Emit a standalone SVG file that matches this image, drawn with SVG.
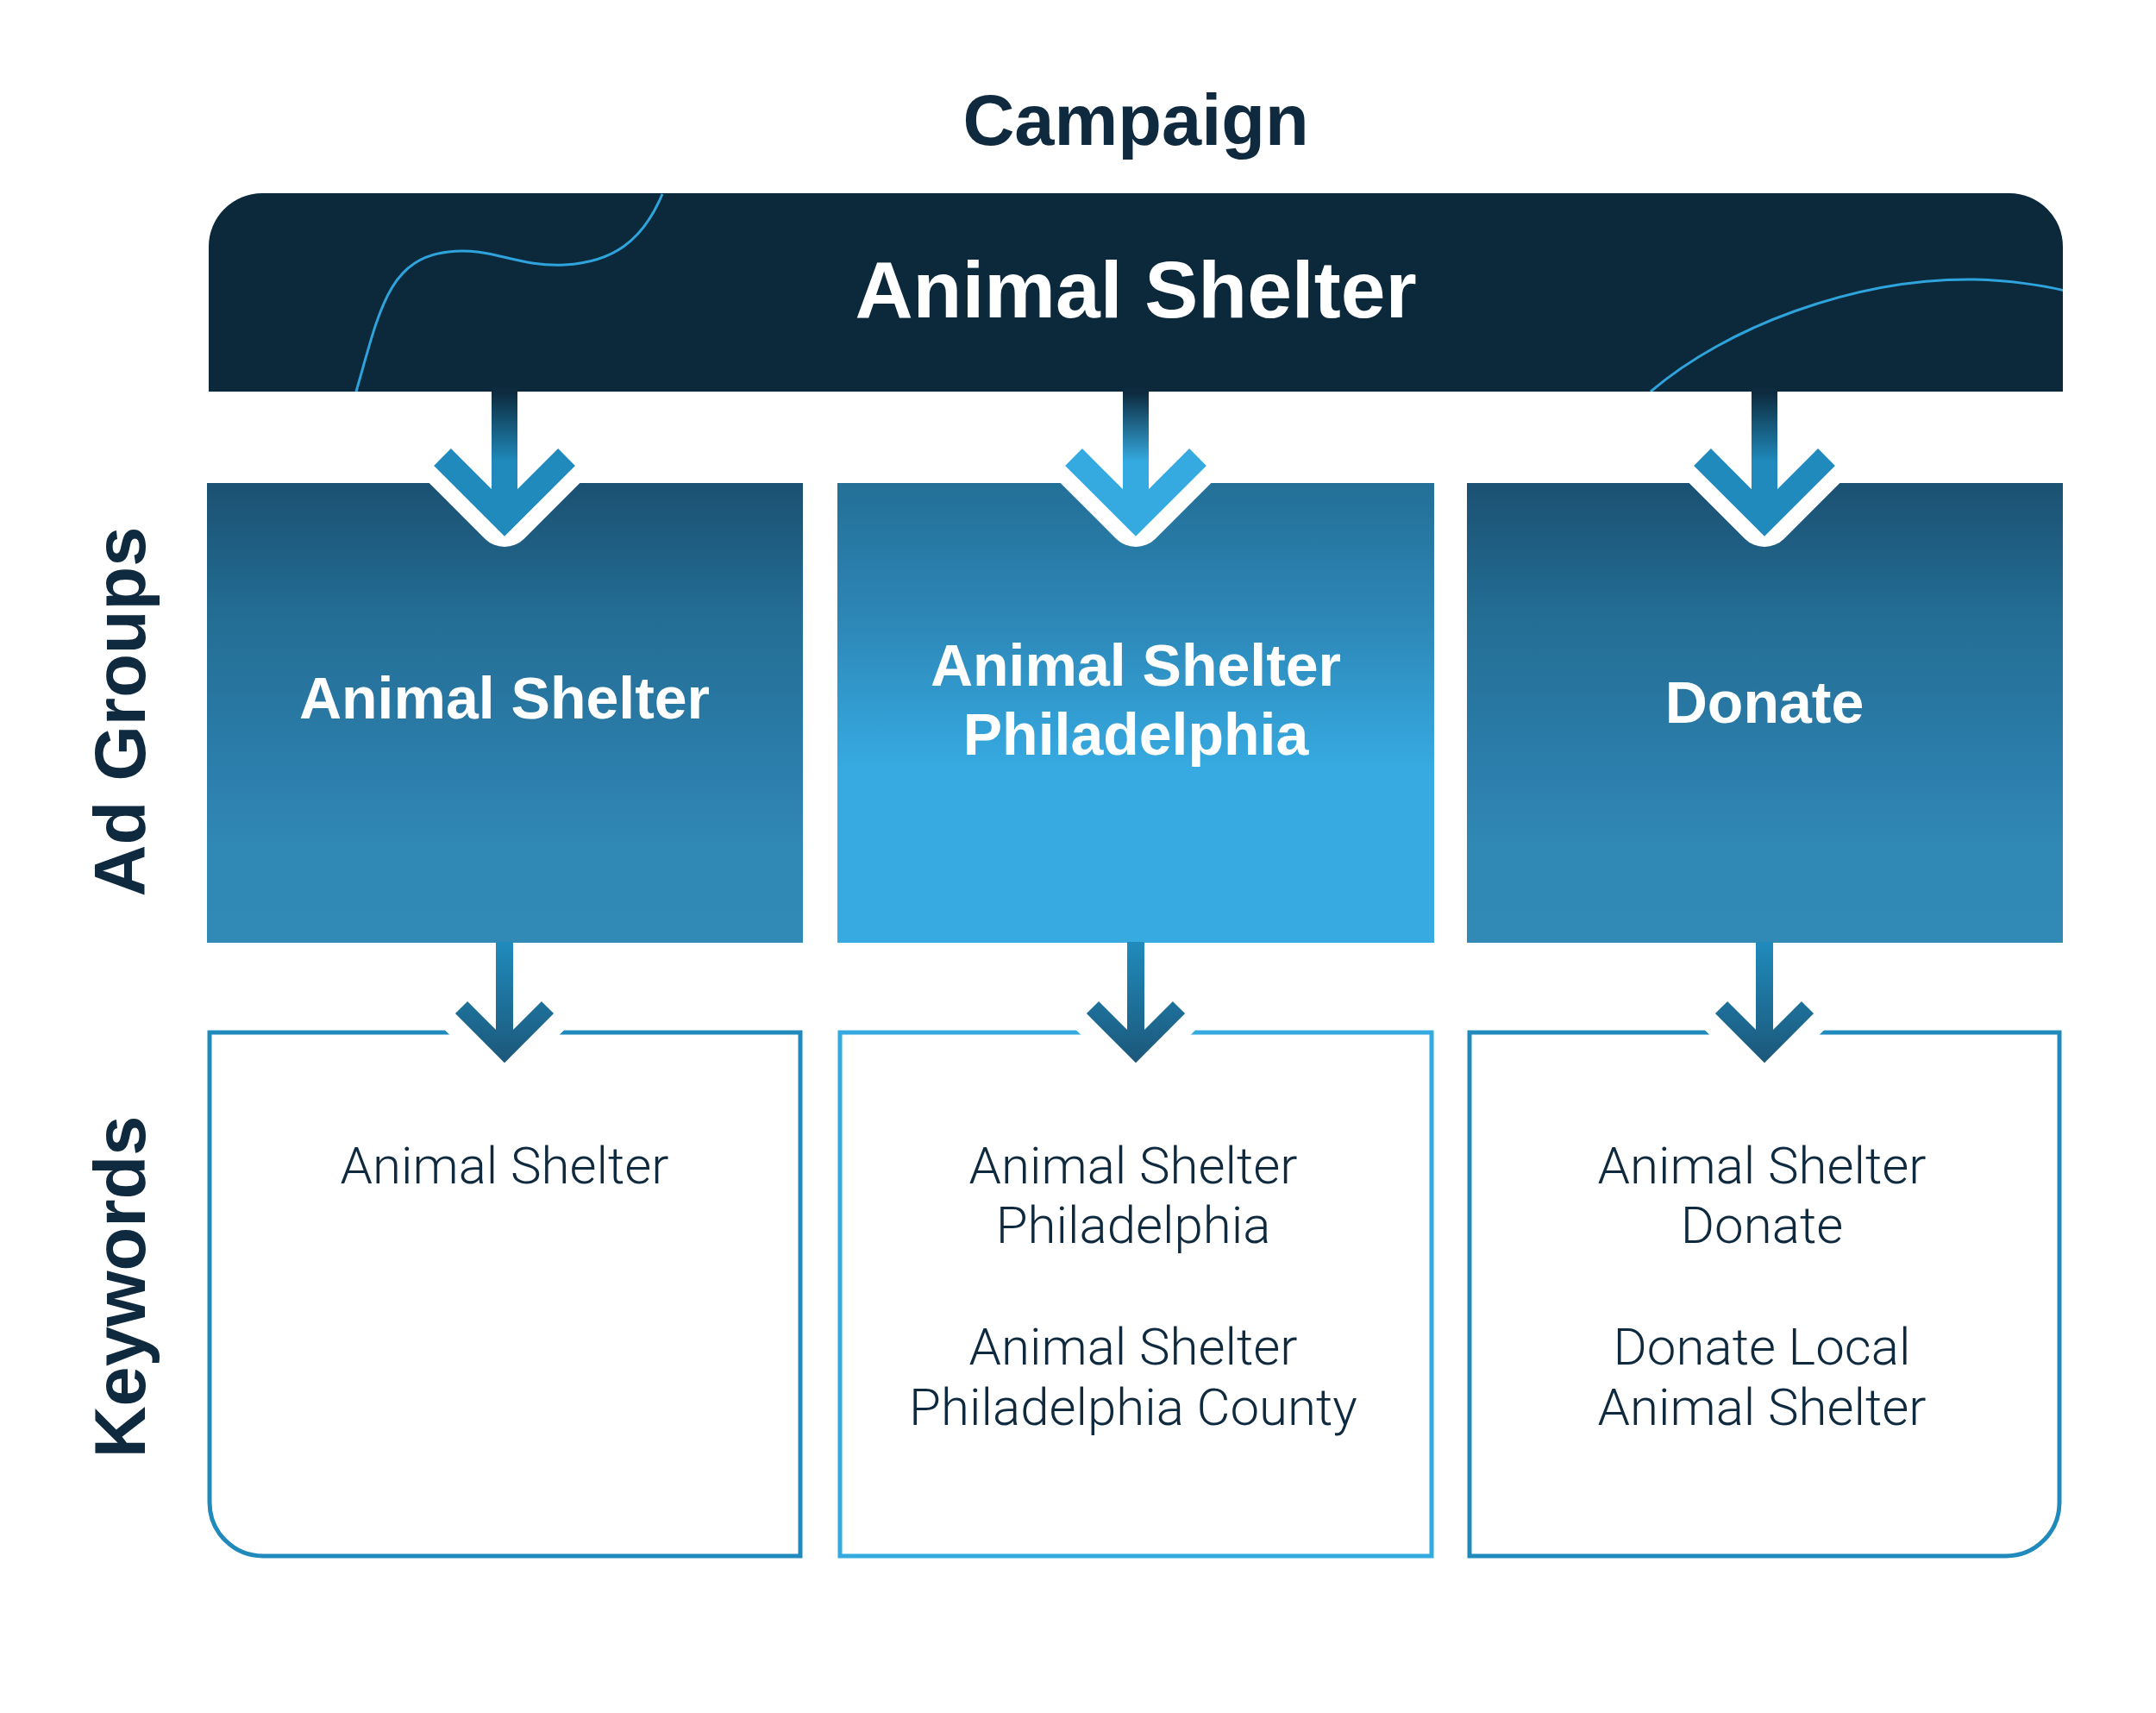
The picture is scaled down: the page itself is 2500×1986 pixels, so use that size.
<svg xmlns="http://www.w3.org/2000/svg" width="2500" height="1986" viewBox="0 0 2500 1986">
  <defs>
    <style>
      .title { font-family: "Liberation Sans", Arial, sans-serif; font-weight: 700; fill: #0f2a3e; text-anchor: middle; }
      .head { font-family: "Liberation Sans", Arial, sans-serif; font-weight: 700; fill: #ffffff; text-anchor: middle; }
      .kw { font-family: Roboto, "Liberation Sans", sans-serif; font-weight: 300; font-size: 60px; fill: #0f2a3e; text-anchor: middle; }
      .deco { fill: none; stroke: #2ea3dc; stroke-width: 3; }
      .kbox { fill: #ffffff; stroke-width: 5; }
      .halo { fill: none; stroke: #ffffff; stroke-linejoin: round; }
    </style>
    <linearGradient id="gAd" x1="0" y1="0" x2="0" y2="1">
      <stop offset="0" stop-color="#1b5172"/>
      <stop offset="0.3" stop-color="#236e95"/>
      <stop offset="0.58" stop-color="#2b7ca9"/>
      <stop offset="0.8" stop-color="#3088b5"/>
      <stop offset="1" stop-color="#3189b6"/>
    </linearGradient>
    <linearGradient id="gAd2" x1="0" y1="0" x2="0" y2="1">
      <stop offset="0" stop-color="#236f97"/>
      <stop offset="0.3" stop-color="#2d87b7"/>
      <stop offset="0.62" stop-color="#36aae1"/>
      <stop offset="1" stop-color="#36aae1"/>
    </linearGradient>
    <linearGradient id="gShaftA" gradientUnits="userSpaceOnUse" x1="0" y1="455" x2="0" y2="535">
      <stop offset="0" stop-color="#0d2a3e"/>
      <stop offset="1" stop-color="#1f8abb"/>
    </linearGradient>
    <linearGradient id="gShaftB" gradientUnits="userSpaceOnUse" x1="0" y1="455" x2="0" y2="535">
      <stop offset="0" stop-color="#0d2a3e"/>
      <stop offset="1" stop-color="#35aae0"/>
    </linearGradient>
    <linearGradient id="gLow" gradientUnits="userSpaceOnUse" x1="0" y1="1095" x2="0" y2="1235">
      <stop offset="0" stop-color="#1f8abb"/>
      <stop offset="1" stop-color="#1c5678"/>
    </linearGradient>
    <clipPath id="barClip">
      <path d="M242,454 V286 A62,62 0 0 1 304,224 H2330 A62,62 0 0 1 2392,286 V454 Z"/>
    </clipPath>
  </defs>

  <rect x="0" y="0" width="2500" height="1986" fill="#ffffff"/>

  <g id="label-campaign">
    <text class="title" x="1317" y="168" font-size="83">Campaign</text>
  </g>
  <g id="label-adgroups">
    <text class="title" font-size="83" transform="translate(168,825) rotate(-90)" x="0" y="0">Ad Groups</text>
  </g>
  <g id="label-keywords">
    <text class="title" font-size="83" transform="translate(168,1492) rotate(-90)" x="0" y="0">Keywords</text>
  </g>

  <g id="campaign-node">
    <path d="M242,454 V286 A62,62 0 0 1 304,224 H2330 A62,62 0 0 1 2392,286 V454 Z" fill="#0c293c"/>
    <g clip-path="url(#barClip)">
      <path class="deco" d="M413,454 C440,360 450,300 520,292 C570,286 600,310 655,307 C710,304 745,280 768,225"/>
      <path class="deco" d="M1914,454 C2000,380 2150,322 2290,324 C2330,325 2370,331 2394,337"/>
    </g>
    <text class="head" x="1317" y="368" font-size="93">Animal Shelter</text>
  </g>

  <g id="adgroup-1">
    <rect x="240" y="560" width="691" height="533" fill="url(#gAd)"/>
    <text class="head" x="585" y="833" font-size="68">Animal Shelter</text>
  </g>
  <g id="adgroup-2">
    <rect x="971" y="560" width="692" height="533" fill="url(#gAd2)"/>
    <text class="head" x="1317" y="795" font-size="68">Animal Shelter</text>
    <text class="head" x="1317" y="875" font-size="68">Philadelphia</text>
  </g>
  <g id="adgroup-3">
    <rect x="1701" y="560" width="691" height="533" fill="url(#gAd)"/>
    <text class="head" x="2046" y="838" font-size="68">Donate</text>
  </g>

  <g id="keywords-1">
    <path class="kbox" stroke="#1f8abb" d="M243,1197 H928 V1804 H305 A62,62 0 0 1 243,1742 Z"/>
    <text class="kw" x="585" y="1372">Animal Shelter</text>
  </g>
  <g id="keywords-2">
    <rect class="kbox" stroke="#35aae0" x="974" y="1197" width="686" height="607"/>
    <text class="kw" x="1314" y="1372">Animal Shelter</text>
    <text class="kw" x="1314" y="1441">Philadelphia</text>
    <text class="kw" x="1314" y="1582">Animal Shelter</text>
    <text class="kw" x="1314" y="1652">Philadelphia County</text>
  </g>
  <g id="keywords-3">
    <path class="kbox" stroke="#1f8abb" d="M1704,1197 H2388 V1742 A62,62 0 0 1 2326,1804 H1704 Z"/>
    <text class="kw" x="2043" y="1372">Animal Shelter</text>
    <text class="kw" x="2043" y="1441">Donate</text>
    <text class="kw" x="2043" y="1582">Donate Local</text>
    <text class="kw" x="2043" y="1652">Animal Shelter</text>
  </g>

  <g id="connectors">
    <!-- campaign to ad groups -->
    <g id="arrow-c-1">
      <polyline class="halo" stroke-width="64" points="513,530 585,602 657,530"/>
      <rect x="570" y="450" width="30" height="150" fill="url(#gShaftA)"/>
      <polyline fill="none" stroke="#1f8abb" stroke-width="28" stroke-linejoin="miter" points="513,530 585,602 657,530"/>
    </g>
    <g id="arrow-c-2">
      <polyline class="halo" stroke-width="64" points="1245,530 1317,602 1389,530"/>
      <rect x="1302" y="450" width="30" height="150" fill="url(#gShaftB)"/>
      <polyline fill="none" stroke="#35aae0" stroke-width="28" stroke-linejoin="miter" points="1245,530 1317,602 1389,530"/>
    </g>
    <g id="arrow-c-3">
      <polyline class="halo" stroke-width="64" points="1974,530 2046,602 2118,530"/>
      <rect x="2031" y="450" width="30" height="150" fill="url(#gShaftA)"/>
      <polyline fill="none" stroke="#1f8abb" stroke-width="28" stroke-linejoin="miter" points="1974,530 2046,602 2118,530"/>
    </g>
    <!-- ad groups to keywords -->
    <g id="arrow-k-1">
      <polyline class="halo" stroke-width="64" points="535,1168 585,1218 635,1168"/>
      <rect x="575" y="1092" width="20" height="120" fill="url(#gLow)"/>
      <polyline fill="none" stroke="url(#gLow)" stroke-width="20" stroke-linejoin="miter" points="535,1168 585,1218 635,1168"/>
    </g>
    <g id="arrow-k-2">
      <polyline class="halo" stroke-width="64" points="1267,1168 1317,1218 1367,1168"/>
      <rect x="1307" y="1092" width="20" height="120" fill="url(#gLow)"/>
      <polyline fill="none" stroke="url(#gLow)" stroke-width="20" stroke-linejoin="miter" points="1267,1168 1317,1218 1367,1168"/>
    </g>
    <g id="arrow-k-3">
      <polyline class="halo" stroke-width="64" points="1996,1168 2046,1218 2096,1168"/>
      <rect x="2036" y="1092" width="20" height="120" fill="url(#gLow)"/>
      <polyline fill="none" stroke="url(#gLow)" stroke-width="20" stroke-linejoin="miter" points="1996,1168 2046,1218 2096,1168"/>
    </g>
  </g>
</svg>
